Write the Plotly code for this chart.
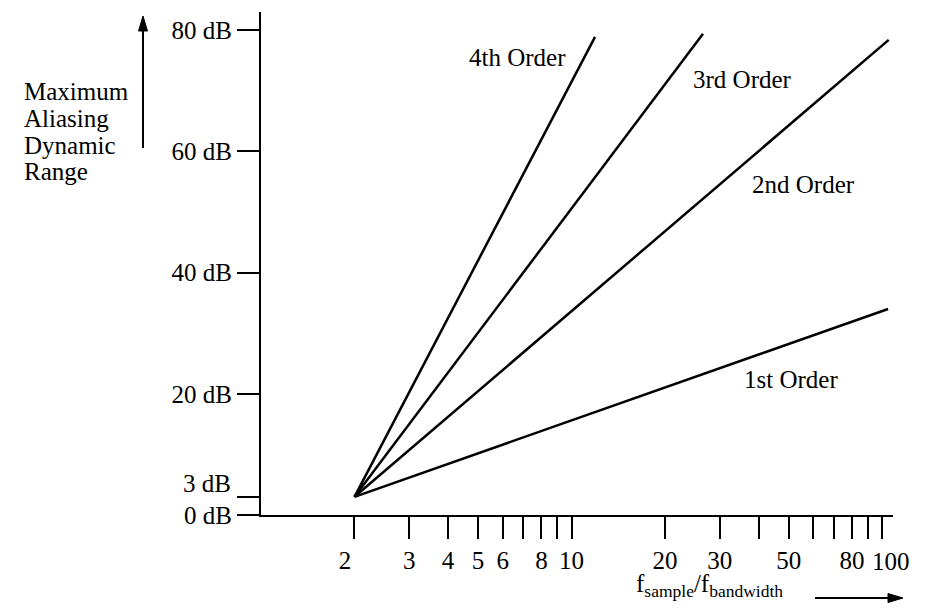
import math
import plotly.graph_objects as go

# ---- data ----
orders = ["1st Order", "2nd Order", "3rd Order", "4th Order"]
x_start = 2.0          # f_sample / f_bandwidth where all lines meet
y_start = 3.0          # dB
x_end = [104.5, 105.0, 26.5, 11.9]
y_end = [34.0, 78.4, 79.4, 78.9]

# label anchor positions (data units)
label_x = [51.0, 56.0, 35.6, 6.7]
label_y = [22.3, 54.5, 71.8, 75.5]

NB = "\u00a0"
x_tick_vals = [2, 3, 4, 5, 6, 8, 10, 20, 30, 50, 80]
x_tick_text = ["2" + NB * 3, "3", "4", "5", "6", "8", "10", "20", "30", "50", "80"]
x_last_tick = 100
x_last_text = "100"
x_minor_vals = [7, 9, 40, 60, 70, 90, 100]
y_tick_vals = [0, 20, 40, 60, 80]
y_tick_text = ["0 dB", "20 dB", "40 dB", "60 dB", "80 dB"]
y_minor_vals = [3]
y_title_lines = ["Maximum", "Aliasing", "Dynamic", "Range"]

FONT = "Liberation Serif, Times New Roman, serif"
FS = 25


def px_x(p):  # pixel -> paper x
    return (p - 261) / 632.0


def px_y(p):  # pixel -> paper y
    return (515 - p) / 503.0


fig = go.Figure()
for name, xe, ye in zip(orders, x_end, y_end):
    fig.add_trace(go.Scatter(
        x=[x_start, xe], y=[y_start, ye], mode="lines", name=name,
        line=dict(color="black", width=2.5), hoverinfo="name"))

annotations = []
for name, lx, ly in zip(orders, label_x, label_y):
    annotations.append(dict(x=math.log10(lx), y=ly, xref="x", yref="y",
                            text=name, showarrow=False,
                            font=dict(family=FONT, size=FS, color="black")))

# last x tick label, nudged right as in the reference
annotations.append(dict(x=math.log10(x_last_tick), y=px_y(561), xref="x", yref="paper",
                        text=x_last_text, xanchor="center", yanchor="middle", xshift=9,
                        showarrow=False, font=dict(family=FONT, size=FS, color="black")))

# "3 dB" label (raised to avoid clashing with "0 dB")
annotations.append(dict(x=0, y=3, xref="paper", yref="y", text="3 dB",
                        xanchor="right", yanchor="middle", xshift=-28, yshift=13,
                        showarrow=False, font=dict(family=FONT, size=FS, color="black")))

# y-axis title, one line at a time
for i, t in enumerate(y_title_lines):
    annotations.append(dict(x=px_x(22), y=px_y(91 + 27 * i), xref="paper", yref="paper",
                            text=t, xanchor="left", yanchor="middle", align="left",
                            showarrow=False,
                            font=dict(family=FONT, size=FS, color="black")))

# x-axis title
annotations.append(dict(x=px_x(709), y=px_y(585), xref="paper", yref="paper",
                        text="f<sub>sample</sub>/f<sub>bandwidth</sub>",
                        xanchor="center", yanchor="middle", showarrow=False,
                        font=dict(family=FONT, size=FS, color="black")))

shapes = [
    # y-title arrow
    dict(type="line", xref="paper", yref="paper", x0=px_x(143), x1=px_x(143),
         y0=px_y(148), y1=px_y(28), line=dict(color="black", width=2)),
    dict(type="path", xref="paper", yref="paper",
         path=f"M {px_x(143)} {px_y(16)} L {px_x(138.5)} {px_y(31)} L {px_x(147.5)} {px_y(31)} Z",
         fillcolor="black", line=dict(color="black", width=1)),
    # x-title arrow
    dict(type="line", xref="paper", yref="paper", x0=px_x(815), x1=px_x(890),
         y0=px_y(598), y1=px_y(598), line=dict(color="black", width=2)),
    dict(type="path", xref="paper", yref="paper",
         path=f"M {px_x(903)} {px_y(598)} L {px_x(888)} {px_y(593.5)} L {px_x(888)} {px_y(602.5)} Z",
         fillcolor="black", line=dict(color="black", width=1)),
]

axis_common = dict(showline=True, linecolor="black", linewidth=2,
                   ticks="outside", ticklen=22, tickwidth=2, tickcolor="black",
                   showgrid=False, zeroline=False,
                   tickfont=dict(family=FONT, size=FS, color="black"))

fig.update_layout(
    width=926, height=612, autosize=False,
    margin=dict(l=261, r=33, t=12, b=97),
    paper_bgcolor="white", plot_bgcolor="white",
    showlegend=False,
    font=dict(family=FONT, size=FS, color="black"),
    xaxis=dict(type="log", range=[0, 2.035], tickmode="array", tickvals=x_tick_vals,
               ticktext=x_tick_text, tickangle=0,
               minor=dict(tickmode="array", tickvals=x_minor_vals, ticks="outside",
                          ticklen=22, tickwidth=2, tickcolor="black", showgrid=False),
               **axis_common),
    yaxis=dict(range=[0, 83], tickmode="array", tickvals=y_tick_vals,
               ticktext=y_tick_text,
               minor=dict(tickmode="array", tickvals=y_minor_vals, ticks="outside",
                          ticklen=22, tickwidth=2, tickcolor="black", showgrid=False),
               **axis_common),
    annotations=annotations,
    shapes=shapes,
)

fig.write_html("out.html")
